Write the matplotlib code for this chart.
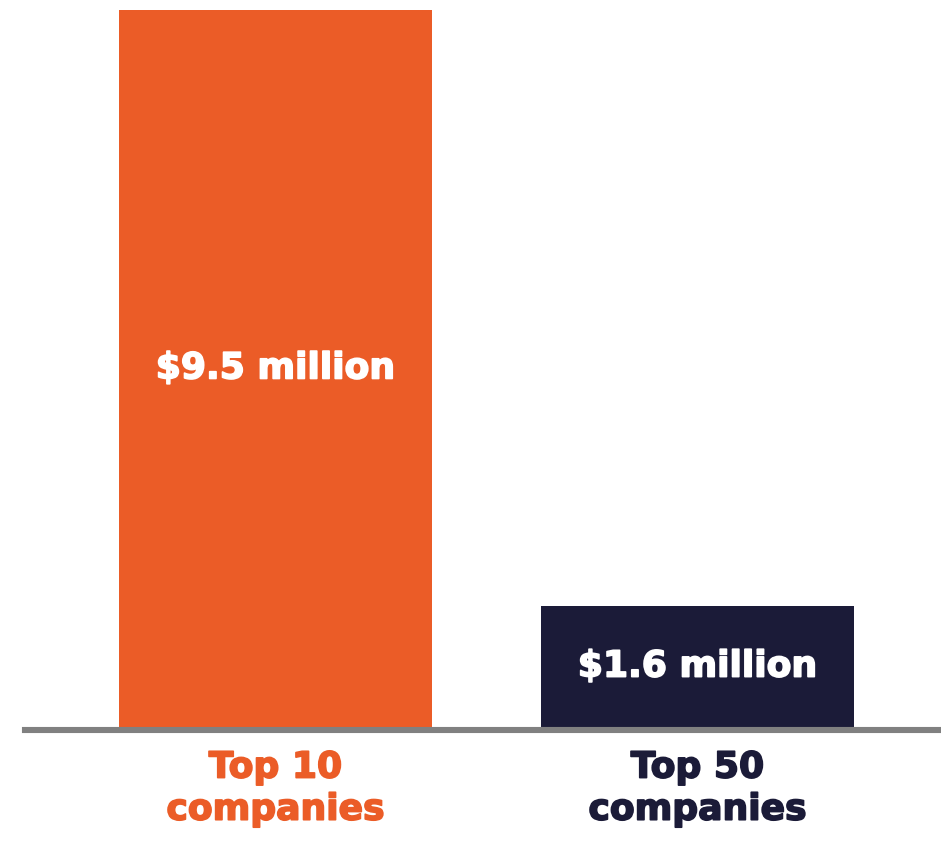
import matplotlib.pyplot as plt
import matplotlib.patheffects as pe

# Average value per company, in millions of dollars
groups = ['Top 10\ncompanies', 'Top 50\ncompanies']
values = [9.5, 1.6]
value_labels = ['$9.5 million', '$1.6 million']
colors = ['#EB5C27', '#1B1B38']


def main():
    plt.rcParams['font.family'] = ['DejaVu Sans']

    fig = plt.figure(figsize=(9.41, 8.41), dpi=100)
    # axes spans from the baseline up to the top of the tallest bar
    ax = fig.add_axes([25 / 941, (841 - 727) / 841, 916 / 941, 717 / 841])

    x = range(len(groups))
    bars = ax.bar(x, values, width=0.7417, color=colors)

    # value labels inside the bars (thin stroke makes the bold look heavier)
    for bar, lab, v in zip(bars, value_labels, values):
        ax.text(bar.get_x() + bar.get_width() / 2, v / 2, lab,
                ha='center', va='center', color='white',
                fontsize=26, fontweight='bold',
                path_effects=[pe.withStroke(linewidth=1.2, foreground='white')])

    ax.set_xlim(-0.5936, 1.577)
    ax.set_ylim(0, 9.5)

    # grey baseline
    ax.axhline(-0.04, color='#808080', linewidth=4.4, clip_on=False)

    ax.set_xticks(list(x))
    ax.set_xticklabels(groups, fontsize=26, fontweight='bold', linespacing=1.3)
    for tick, c in zip(ax.get_xticklabels(), colors):
        tick.set_color(c)
        tick.set_path_effects([pe.withStroke(linewidth=1.2, foreground=c)])
    ax.tick_params(axis='x', length=0, pad=17)
    ax.set_yticks([])
    for s in ax.spines.values():
        s.set_visible(False)

    fig.savefig('out.png', dpi=100)


if __name__ == "__main__":
    main()
